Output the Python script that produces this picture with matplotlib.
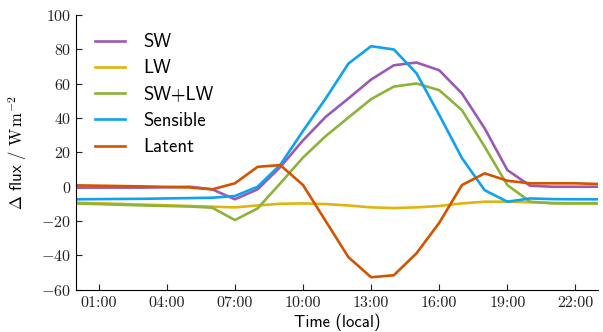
import matplotlib
matplotlib.use("Agg")
import matplotlib.pyplot as plt
from matplotlib.ticker import FuncFormatter

plt.rcParams['mathtext.fontset'] = 'cm'
plt.rcParams['font.family'] = ['cmss10', 'DejaVu Sans']
plt.rcParams['axes.unicode_minus'] = False

hours = list(range(24))
sw = [-0.5, -0.5, -0.5, -0.5, -0.3, 0.0, -1.5, -7.3, -1.5, 11.5, 27.0, 40.7,
      51.4, 62.4, 70.7, 72.3, 67.8, 54.3, 34.0, 9.7, 0.6, 0.0, 0.0, 0.0]
lw = [-9.3, -9.6, -10.0, -10.4, -10.8, -11.2, -11.6, -12.0, -10.9, -9.9, -9.7, -10.1,
      -10.9, -12.0, -12.4, -12.0, -11.2, -9.7, -8.7, -8.7, -9.0, -9.4, -9.6, -9.7]
swlw = [-9.7, -10.1, -10.5, -10.9, -11.2, -11.5, -12.2, -19.4, -12.6, 2.0, 17.0, 29.5,
        40.3, 51.0, 58.3, 60.1, 56.2, 44.6, 23.3, 1.0, -8.7, -9.7, -9.7, -9.7]
sensible = [-7.3, -7.2, -7.1, -7.0, -6.8, -6.6, -6.4, -5.4, 0.0, 12.8, 32.5, 51.4,
            71.7, 81.8, 79.9, 66.0, 41.8, 16.7, -2.0, -8.7, -6.8, -7.2, -7.3, -7.3]
latent = [0.8, 0.6, 0.4, 0.2, -0.1, -0.4, -1.5, 2.0, 11.6, 12.6, 1.0, -20.0,
          -41.0, -52.7, -51.5, -38.7, -21.0, 1.0, 7.8, 3.5, 2.0, 2.0, 2.0, 1.6]

series = [("SW", sw, "#9b59b6"),
          ("LW", lw, "#e0b40f"),
          ("SW+LW", swlw, "#8db33a"),
          ("Sensible", sensible, "#0fa2ef"),
          ("Latent", latent, "#d35400")]

xtick_pos = [1, 4, 7, 10, 13, 16, 19, 22]
xtick_lab = ["01:00", "04:00", "07:00", "10:00", "13:00", "16:00", "19:00", "22:00"]

fig = plt.figure(figsize=(6.03, 3.32), dpi=100)
ax = fig.add_axes([0.126, 0.127, 0.866, 0.828])

for name, vals, col in series:
    ax.plot(hours, vals, color=col, lw=1.9, label=name)

ax.set_xlim(0, 23)
ax.set_ylim(-60, 100)
ax.set_yticks(range(-60, 101, 20))
ax.yaxis.set_major_formatter(FuncFormatter(lambda v, p: r'$%d$' % v))
ax.set_xticks(xtick_pos)
ax.set_xticklabels(xtick_lab, fontfamily='cmr10')

for s in ['top', 'right']:
    ax.spines[s].set_visible(False)
ax.tick_params(direction='in', length=4, labelsize=11.5, colors='#222222')
ax.tick_params(axis='x', pad=5)

ax.set_xlabel("Time (local)", fontsize=12, labelpad=2)
ax.set_ylabel(r'$\Delta$ flux / $\mathrm{W\,m^{-2}}$', fontsize=12, labelpad=9)

ax.legend(loc='upper left', frameon=False, fontsize=13.5, handlelength=1.55,
          handletextpad=1.0, labelspacing=0.44, bbox_to_anchor=(0.005, 0.995))

fig.savefig("out.png", dpi=100)
